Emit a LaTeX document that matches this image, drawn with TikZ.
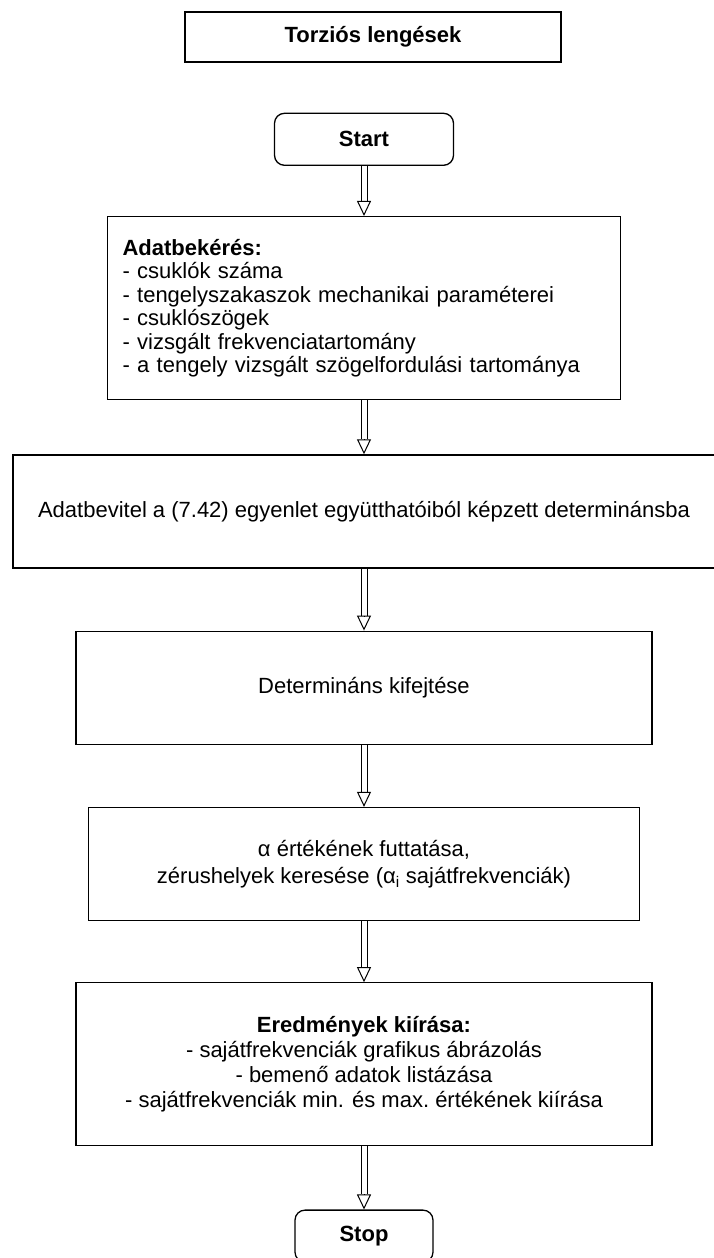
\documentclass[tikz,border=0pt]{standalone}
\usepackage{fontspec}
\setmainfont{Liberation Sans}
\usetikzlibrary{arrows.meta, positioning}

\begin{document}
\begin{tikzpicture}[x=1pt, y=1pt, node distance=50pt,
  box/.style={draw, line width=1.3pt, minimum height=113pt, align=center, font=\fontsize{22}{25}\selectfont},
  term/.style={box, rounded corners=10pt, minimum height=52pt, font=\fontsize{22}{25}\selectfont\bfseries},
  shaft/.style={draw=black, double=white, double distance=5pt, line width=1pt},
  head/.style={line width=1pt, -{Triangle[open, width=14pt, length=15pt]}},
]
  \useasboundingbox (0,0) rectangle (713,-1258);

  \node[box, minimum width=376pt, minimum height=50pt, font=\fontsize{22}{25}\selectfont\bfseries] (title) at (373,-37) {Torziós lengések};
  \node[term, minimum width=179pt, below=50pt of title, xshift=-9pt] (start) {Start};
  \node[box, minimum height=183pt, text width=483pt, inner xsep=15pt, align=left, font=\fontsize{22}{23.5}\selectfont, below=50pt of start] (adat)
    {\textbf{Adatbekérés:}\\
     - csuklók száma\\
     - tengelyszakaszok mechanikai paraméterei\\
     - csuklószögek\\
     - vizsgált frekvenciatartomány\\
     - a tengely vizsgált szögelfordulási tartománya};
  \node[box, minimum width=702pt, below=54pt of adat] (bevitel)
    {Adatbevitel a (7.42) egyenlet együtthatóiból képzett determinánsba};
  \node[box, minimum width=576pt, below=62pt of bevitel] (kifejt) {Determináns kifejtése};
  \node[box, minimum width=551pt, font=\fontsize{22}{27}\selectfont, below=62pt of kifejt] (futtat)
    {α értékének futtatása,\\ zérushelyek keresése (α\textsubscript{i} sajátfrekvenciák)};
  \node[box, minimum width=576pt, minimum height=163pt, below=61pt of futtat] (kiiras)
    {\textbf{Eredmények kiírása:}\\
     - sajátfrekvenciák grafikus ábrázolás\\
     - bemenő adatok listázása\\
     - sajátfrekvenciák min. és max.\ értékének kiírása};
  \node[term, minimum width=138pt, below=63pt of kiiras] (stop) {Stop};

  % hollow double arrows: shaft first, then the open head
  \foreach \a/\b in {start/adat, adat/bevitel, bevitel/kifejt, kifejt/futtat, futtat/kiiras, kiiras/stop} {
    \draw[shaft] (\a.south) -- ([yshift=15pt]\b.north);
    \draw[head] ([yshift=15pt]\b.north) -- (\b.north);
  }
\end{tikzpicture}
\end{document}
